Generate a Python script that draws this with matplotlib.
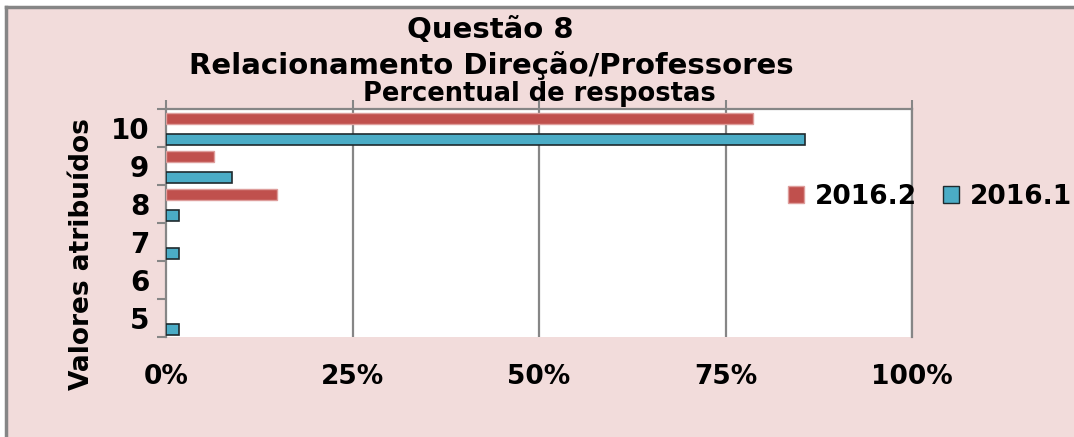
import matplotlib
matplotlib.use("Agg")
import matplotlib.pyplot as plt
from matplotlib.patches import Patch, Rectangle
import numpy as np

# --- data (percent of answers per score) ---
categories = ["5", "6", "7", "8", "9", "10"]
pct_2016_2 = [0.0, 0.0, 0.0, 14.9, 6.4, 78.7]
pct_2016_1 = [1.8, 0.0, 1.8, 1.8, 8.9, 85.7]
xticks = [0, 25, 50, 75, 100]
xtick_labels = ["0%", "25%", "50%", "75%", "100%"]

red = "#C0504D"
blue = "#4BACC6"
grid_gray = "#868686"
bg = "#F2DCDB"

plt.rcParams['font.family'] = ['DejaVu Sans']
plt.rcParams['font.weight'] = 'bold'

W, H = 1074, 437
fig = plt.figure(figsize=(W / 100, H / 100), dpi=100)
fig.patch.set_facecolor("white")

# pink chart area with gray top/left border
fig.patches.append(Rectangle((6 / W, -0.5), 2, 1.5 - 7 / H, transform=fig.transFigure,
                             facecolor=bg, edgecolor="none", zorder=-5))
fig.lines.append(plt.Line2D([6 / W, 1.2], [1 - 7 / H, 1 - 7 / H], transform=fig.transFigure,
                            color=grid_gray, lw=2.5, zorder=-4))
fig.lines.append(plt.Line2D([6 / W, 6 / W], [-0.2, 1 - 7 / H], transform=fig.transFigure,
                            color=grid_gray, lw=2.5, zorder=-4))

ax = fig.add_axes([166 / W, 1 - 337 / H, (912 - 166) / W, (337 - 109) / H])
ax.set_facecolor("white")

y = np.arange(len(categories))
lw_red = [1.0 if v > 0 else 0 for v in pct_2016_2]
lw_blue = [1.2 if v > 0 else 0 for v in pct_2016_1]
ax.barh(y + 0.26, pct_2016_2, height=0.29, color=red, edgecolor="#DE9E9C", linewidth=lw_red, zorder=3)
ax.barh(y - 0.31, pct_2016_1, height=0.30, color=blue, edgecolor="#1F2A2E", linewidth=lw_blue, zorder=3)

ax.set_xlim(0, 100)
ax.set_ylim(-0.5, len(categories) - 0.5)

# vertical gridlines
for v in xticks[1:]:
    ax.axvline(v, color=grid_gray, lw=1.6, zorder=1)

ax.set_xticks(xticks)
ax.set_xticklabels(xtick_labels, fontsize=19, fontweight="bold")
ax.tick_params(axis="x", which="both", bottom=False, top=True, labelbottom=True,
               length=6.5, width=1.5, color=grid_gray, direction="out", pad=13)

ax.set_yticks(np.arange(-0.5, len(categories), 1.0))
ax.set_yticklabels([])
ax.set_yticks(y, minor=True)
ax.set_yticklabels(categories, minor=True, fontsize=20, fontweight="bold")
ax.tick_params(axis="y", which="major", length=6.5, width=1.5, color=grid_gray, direction="out")
ax.tick_params(axis="y", which="minor", length=0, pad=12)

for s in ["top", "left", "right"]:
    ax.spines[s].set_color(grid_gray)
    ax.spines[s].set_linewidth(1.6)
ax.spines["bottom"].set_visible(False)

# titles
fig.text(490 / W, 1 - 30 / H, "Questão 8", ha="center", va="center", fontsize=21, fontweight="bold")
fig.text(491 / W, 1 - 66 / H, "Relacionamento Direção/Professores", ha="center", va="center",
         fontsize=21, fontweight="bold")
fig.text(539 / W, 1 - 94 / H, "Percentual de respostas", ha="center", va="center",
         fontsize=18.5, fontweight="bold")
fig.text(82 / W, 1 - 254 / H, "Valores atribuídos", ha="center", va="center", rotation=90,
         fontsize=19, fontweight="bold")

handles = [Patch(facecolor=red, edgecolor="#DE9E9C"),
           Patch(facecolor=blue, edgecolor="#1F2A2E")]
fig.legend(handles, ["2016.2", "2016.1"], loc="center", bbox_to_anchor=(930 / W, 1 - 197 / H),
           ncol=2, frameon=False, prop={"size": 19, "weight": "bold"},
           handlelength=0.6, handleheight=0.6, handletextpad=0.4, columnspacing=1.0)

fig.savefig("out.png", dpi=100, facecolor=fig.get_facecolor())
